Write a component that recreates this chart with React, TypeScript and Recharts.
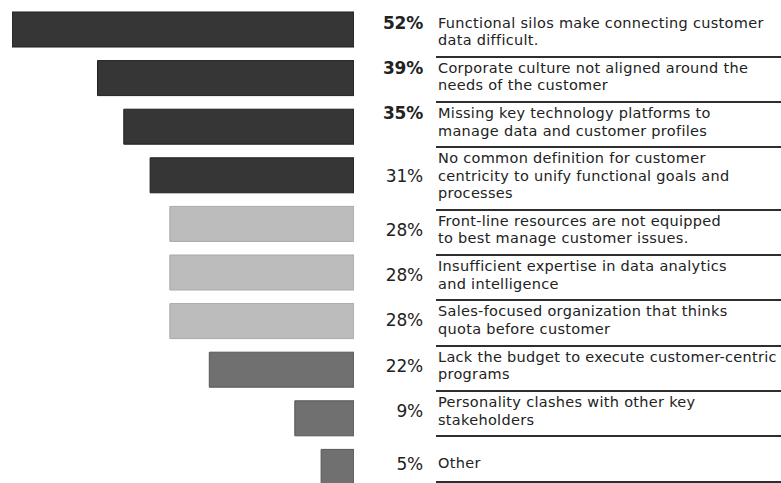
import { BarChart, Bar, XAxis, YAxis, Cell } from 'recharts';

const labelLines: string[][] = [
  ['Functional silos make connecting customer', 'data difficult.'],
  ['Corporate culture not aligned around the', 'needs of the customer'],
  ['Missing key technology platforms to', 'manage data and customer profiles'],
  ['No common definition for customer', 'centricity to unify functional goals and', 'processes'],
  ['Front-line resources are not equipped', 'to best manage customer issues.'],
  ['Insufficient expertise in data analytics', 'and intelligence'],
  ['Sales-focused organization that thinks', 'quota before customer'],
  ['Lack the budget to execute customer-centric', 'programs'],
  ['Personality clashes with other key', 'stakeholders'],
  ['Other'],
];
const values = [52, 39, 35, 31, 28, 28, 28, 22, 9, 5];
const groupOf = [0, 0, 0, 0, 1, 1, 1, 2, 2, 2];
const boldRows = 3;

const groupFill = ['#363636', '#bcbcbc', '#707070'];
const groupStroke = ['#1f1f1f', '#a9a9a9', '#565656'];

const data = labelLines.map((lines, i) => ({ name: lines.join(' '), value: values[i] }));

const textFont = '"DejaVu Sans", sans-serif';

function LabelPanel() {
  return (
    <div style={{ position: 'absolute', left: 370, top: 12.5, width: 411, fontFamily: textFont, color: '#222' }}>
      {labelLines.map((lines, i) => {
        const bold = i < boldRows;
        const padTop = lines.length === 1 ? 18 : 2;
        return (
          <div key={i} style={{ display: 'flex', alignItems: 'stretch' }}>
            <div
              style={{
                width: 53,
                boxSizing: 'border-box',
                paddingTop: padTop,
                paddingBottom: 8,
                display: 'flex',
                flexDirection: 'column',
                justifyContent: bold ? 'flex-start' : 'center',
                alignItems: 'flex-end',
                fontSize: 17,
                fontWeight: bold ? 700 : 400,
                lineHeight: '17.5px',
                letterSpacing: -0.2,
              }}
            >
              <span>{values[i]}%</span>
            </div>
            <div
              style={{
                marginLeft: 13,
                flex: 1,
                boxSizing: 'border-box',
                minHeight: 45.3,
                padding: `${padTop}px 0 6px 2px`,
                borderBottom: '2px solid #2e2e2e',
                fontSize: 14.5,
                lineHeight: '17.5px',
                letterSpacing: 0.3,
              }}
            >
              {lines.map((l, j) => (
                <div key={j} style={{ whiteSpace: 'nowrap' }}>{l}</div>
              ))}
            </div>
          </div>
        );
      })}
    </div>
  );
}

export default function App() {
  return (
    <div style={{ position: 'absolute', left: 0, top: 0, width: 781, height: 483, overflow: 'hidden', background: '#fff' }}>
      <BarChart
        width={781}
        height={491}
        data={data}
        layout="vertical"
        margin={{ top: 5, right: 427, bottom: 0, left: 12 }}
      >
        <XAxis type="number" domain={[0, 52]} allowDataOverflow reversed hide />
        <YAxis type="category" dataKey="name" hide />
        <Bar dataKey="value" barSize={35} isAnimationActive={false}>
          {data.map((d, i) => (
            <Cell key={d.name} fill={groupFill[groupOf[i]]} stroke={groupStroke[groupOf[i]]} strokeWidth={1} />
          ))}
        </Bar>
      </BarChart>
      <LabelPanel />
    </div>
  );
}
